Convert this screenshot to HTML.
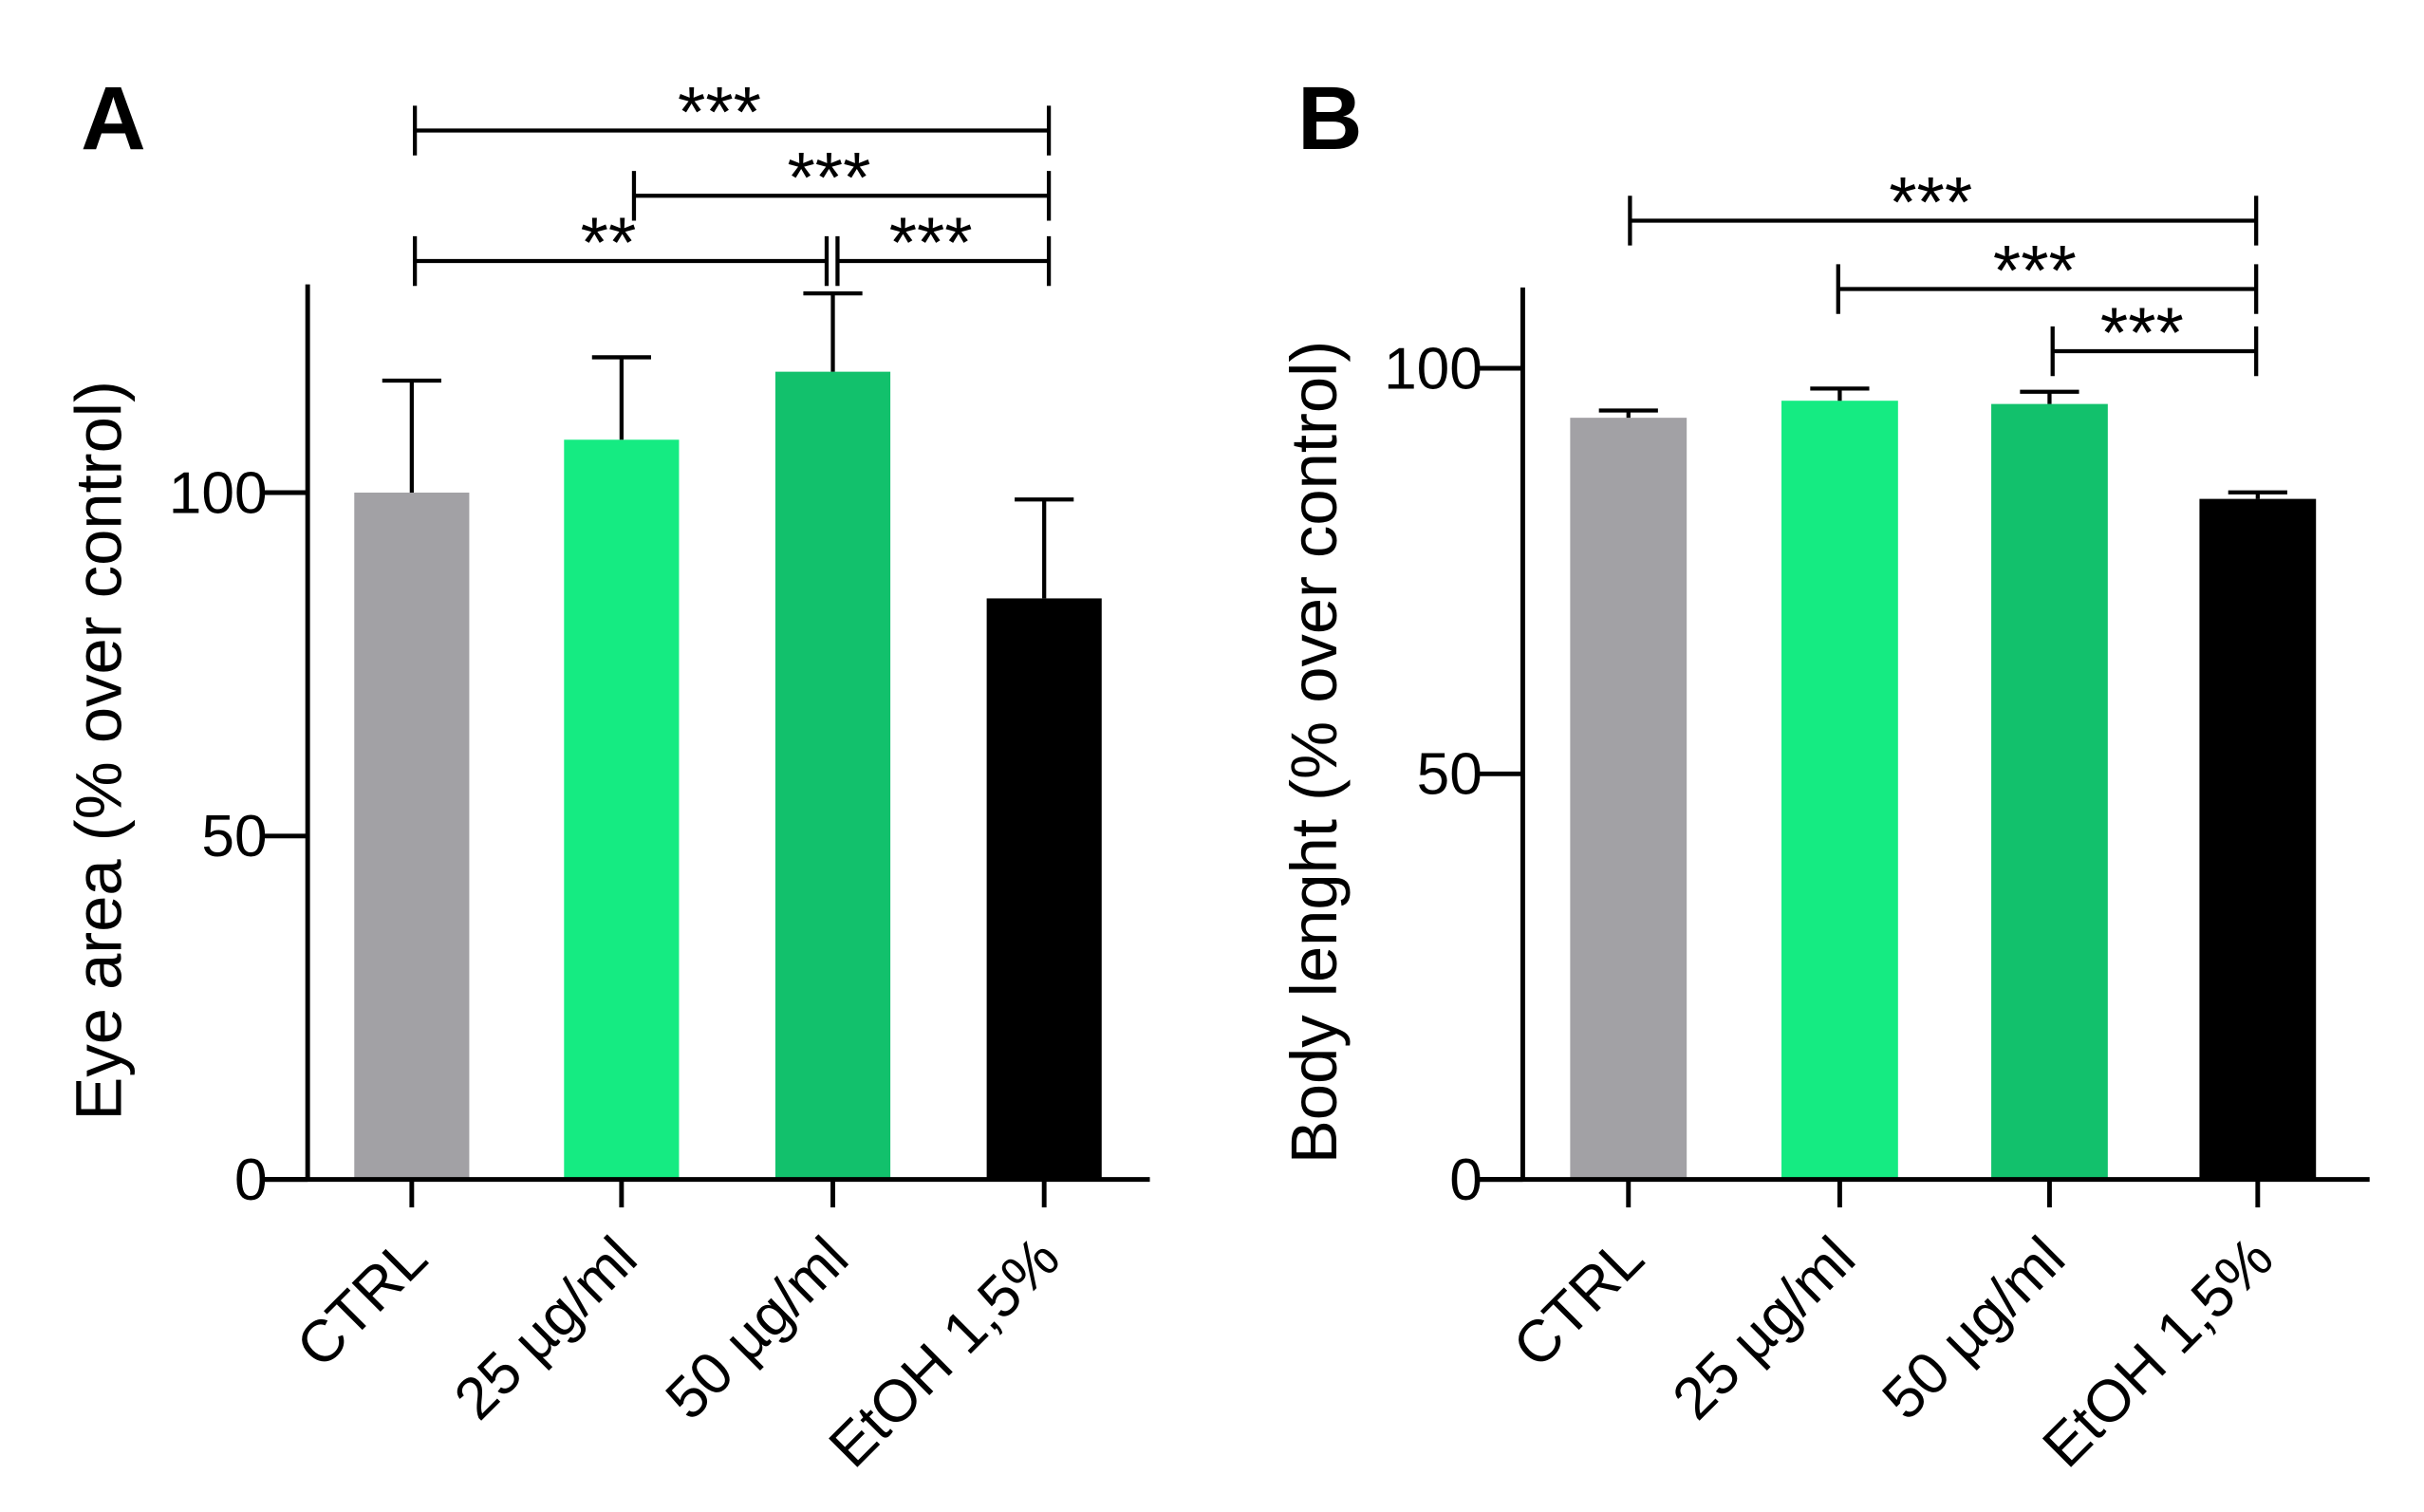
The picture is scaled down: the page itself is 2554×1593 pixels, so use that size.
<!DOCTYPE html>
<html><head><meta charset="utf-8"><style>
html,body{margin:0;padding:0;background:#fff}
svg{display:block}
text{font-family:"Liberation Sans",Arial,sans-serif;fill:#000}
</style></head><body>
<svg id="chart" width="2554" height="1593" viewBox="0 0 1560 973" preserveAspectRatio="none" xmlns="http://www.w3.org/2000/svg"></svg>
<script>
const categories = ["CTRL", "25 µg/ml", "50 µg/ml", "EtOH 1,5%"];
const colors = ["#a2a1a5", "#15eb82", "#12c16c", "#000000"];
const eyeValues = [100, 107.7, 117.6, 84.6];
const eyeErrors = [16.3, 12.0, 11.4, 14.4];
const bodyValues = [93.9, 96.0, 95.6, 83.9];
const bodyErrors = [0.9, 1.5, 1.5, 0.8];
const yTicks = [0, 50, 100];
const eyeSig = [[0, 3, "***"], [1, 3, "***"], [0, 2, "**"], [2, 3, "***"]];
const bodySig = [[0, 3, "***"], [1, 3, "***"], [2, 3, "***"]];

const NS = "http://www.w3.org/2000/svg";
const svg = document.getElementById("chart");
function mk(tag, attrs, parent, txt) {
  const e = document.createElementNS(NS, tag);
  for (const k in attrs) e.setAttribute(k, attrs[k]);
  if (txt !== undefined) e.textContent = txt;
  (parent || svg).appendChild(e);
  return e;
}

function panel(cfg) {
  const g = mk("g", {});
  
  
  const y = v => cfg.y0 - v * cfg.ppu;
  const xc = i => cfg.centers[i];
  const L = mk("text", {x: cfg.letterX, y: 96, "font-size": 58, "font-weight": "bold"}, g, cfg.letter);
  
  
  cfg.values.forEach((v, i) => {
    const b = mk("rect", {x: xc(i) - cfg.bw / 2, y: y(v), width: cfg.bw, height: cfg.y0 - y(v), fill: colors[i]}, g);
    
    
    const top = y(v + cfg.errors[i]);
    const e = mk("path", {d: `M${xc(i)},${y(v)}V${top}M${xc(i) - 19},${top}H${xc(i) + 19}`, stroke: "#000", "stroke-width": 2.6, fill: "none"}, g);
    
    
  });
  const ax = mk("path", {d: `M${cfg.axX},${cfg.axTop}V${cfg.y0}M${cfg.axX - 28},${cfg.y0}H${cfg.axRight}`, stroke: "#000", "stroke-width": 3, fill: "none"}, g);
  
  
  yTicks.forEach(t => {
    const tk = mk("line", {x1: cfg.axX - 28, x2: cfg.axX, y1: y(t), y2: y(t), stroke: "#000", "stroke-width": 3}, g);
    
    
    const tl = mk("text", {x: cfg.axX - 26, y: y(t) + 13, "font-size": 38, "text-anchor": "end"}, g, String(t));
    
    
  });
  categories.forEach((c, i) => {
    const tk = mk("line", {x1: xc(i), x2: xc(i), y1: cfg.y0, y2: cfg.y0 + 18, stroke: "#000", "stroke-width": 3}, g);
    
    
    const lx = xc(i) + 12, ly = 812;
    const tl = mk("text", {x: lx, y: ly, "font-size": 38, "text-anchor": "end", transform: `rotate(-45 ${lx} ${ly})`}, g, c);
    
    
  });
  const tx = cfg.axX - 120, ty = (cfg.axTop + cfg.y0) / 2 + 12;
  const yt = mk("text", {x: tx, y: ty, "font-size": 42, "text-anchor": "middle", transform: `rotate(-90 ${tx} ${ty})`}, g, cfg.ytitle);
  
  
  cfg.sig.forEach((s, k) => {
    const by = cfg.sigY[k];
    const x1 = xc(s[0]) + (cfg.sigOff[k] ? cfg.sigOff[k][0] : 2);
    const x2 = xc(s[1]) + (cfg.sigOff[k] ? cfg.sigOff[k][1] : 2);
    const p = mk("path", {d: `M${x1},${by - 16}V${by + 16}M${x1},${by}H${x2}M${x2},${by - 16}V${by + 16}`, stroke: "#000", "stroke-width": 2.6, fill: "none"}, g);
    
    
    const st = mk("text", {x: (x1 + x2) / 2 - 8, y: by + 4, "font-size": 46, "text-anchor": "middle"}, g, s[2]);
    
    
  });
}

panel({name: "panel-a-eye-area", letter: "A", letterX: 52, values: eyeValues, errors: eyeErrors,
  y0: 759, ppu: 4.42, centers: [265, 400, 536, 672], bw: 74, axX: 198, axTop: 183, axRight: 740,
  ytitle: "Eye area (% over control)", sig: eyeSig, sigY: [84, 126, 168, 168],
  sigOff: [[2, 3], [8, 3], [2, -4], [3, 3]]});
panel({name: "panel-b-body-length", letter: "B", letterX: 835, values: bodyValues, errors: bodyErrors,
  y0: 759, ppu: 5.22, centers: [1048, 1184, 1319, 1453], bw: 75, axX: 980, axTop: 185, axRight: 1525,
  ytitle: "Body lenght (% over control)", sig: bodySig, sigY: [142, 186, 226],
  sigOff: [[1, -1], [-1, -1], [2, -1]]});
</script>
</body></html>
